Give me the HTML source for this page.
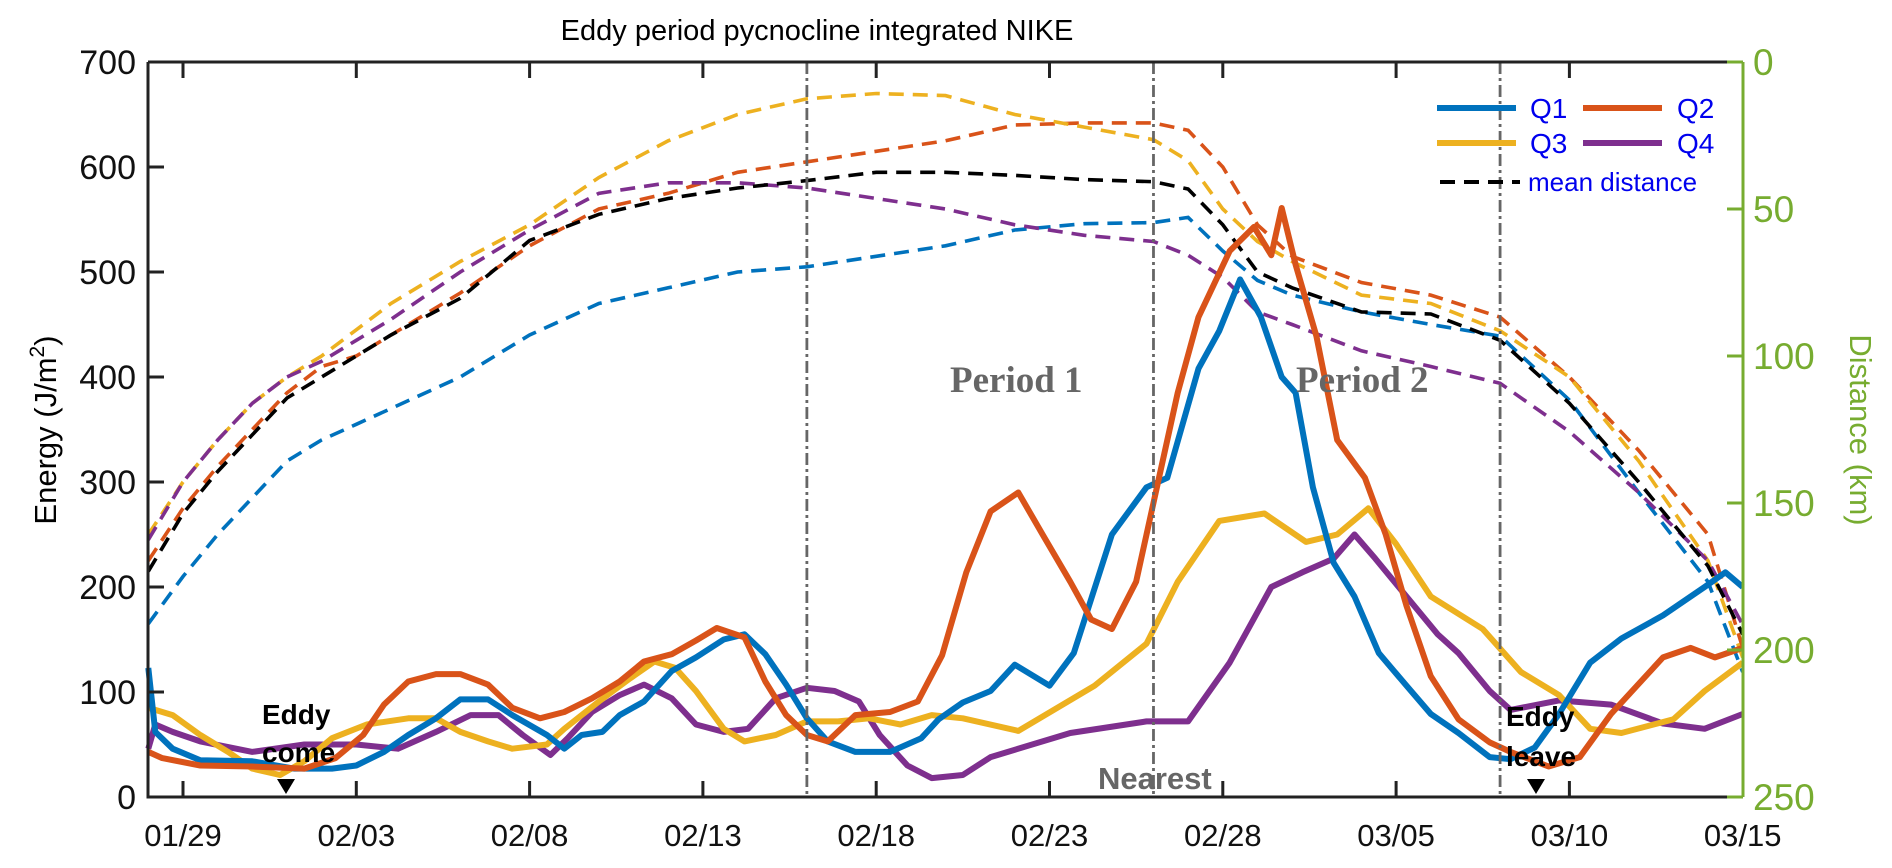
<!DOCTYPE html>
<html><head><meta charset="utf-8"><style>
html,body{margin:0;padding:0;background:#fff;}
svg{display:block;font-family:"Liberation Sans",Arial,sans-serif;}
</style></head><body>
<svg id="chart" width="1892" height="868" viewBox="0 0 1892 868" xmlns="http://www.w3.org/2000/svg">
<text x="817" y="40" font-size="29" text-anchor="middle" fill="#000">Eddy period pycnocline integrated NIKE</text>
<text transform="translate(56,430) rotate(-90)" font-size="31" text-anchor="middle" fill="#000">Energy (J/m<tspan font-size="21" dy="-12">2</tspan><tspan dy="12">)</tspan></text>
<text transform="translate(1850,430) rotate(90)" font-size="31" text-anchor="middle" fill="#77AC30">Distance (km)</text>
<g id="plot"></g>
</svg>
<script>
const xTickLabels=["01/29","02/03","02/08","02/13","02/18","02/23","02/28","03/05","03/10","03/15"];
const yTicks=[0,100,200,300,400,500,600,700];
const kmTicks=[0,50,100,150,200,250];
const periodLines=[18,28,38];

const dashDays=[-1,0,1,2,3,4,5,6,8,10,12,14,16,18,20,22,24,26,28,29,30,31,32,34,36,38,40,42,44,45];
const dashQ3=[250,300,340,375,400,420,445,470,510,545,590,625,650,665,670,668,650,638,626,606,560,529,510,478,470,444,400,320,225,133];
const dashQ2=[225,275,315,350,385,410,420,440,480,525,560,575,595,605,615,625,640,642,642,635,600,545,515,490,478,457,400,330,250,142];
const dashMean=[215,270,310,345,380,400,420,440,475,530,555,570,580,587,595,595,592,588,586,579,545,500,485,462,460,435,375,300,220,155];
const dashQ1=[165,210,250,285,320,340,355,370,400,440,470,485,500,505,515,525,540,546,547,552,520,492,478,462,450,439,378,290,205,119];
const dashQ4=[245,300,340,375,400,415,435,455,500,540,575,585,585,580,570,560,545,535,529,516,495,462,450,425,410,394,348,290,225,164];

const q1Days=[-1,-0.8,-0.3,0.5,2,3.2,4.3,5,5.8,6.5,7.3,8,8.8,9.5,10.5,11,11.5,12.1,12.6,13.3,14.1,14.8,15.6,16.2,16.8,17.4,18,18.6,19.4,20.4,21.3,21.8,22.5,23.3,24,25,25.7,26.8,27.8,28.4,29.3,29.9,30.5,31.1,31.7,32.1,32.6,33.2,33.8,34.5,35.3,36,36.8,37.7,38.3,39,39.7,40.6,41.5,42.7,43.9,44.5,45];
const q1Vals=[123,62,46,35,34,27,27,30,43,59,75,93,93,78,59,46,59,62,78,91,120,133,150,155,136,107,75,53,43,43,56,74,90,101,126,106,137,250,295,304,408,444,493,457,400,385,295,223,191,137,106,79,61,38,36,47,79,128,151,173,200,214,200];
const q2Days=[-1,-0.6,0.5,2,3.5,4.4,5.2,5.8,6.5,7.3,8,8.8,9.5,10.3,11,11.8,12.6,13.3,14.1,14.8,15.4,16.2,16.8,17.4,18,18.6,19.4,20.4,21.2,21.9,22.6,23.3,24.1,24.8,25.6,26.2,26.8,27.5,28.1,28.7,29.3,30.2,30.9,31.4,31.7,32.1,32.7,33.3,34.1,34.7,35.3,36,36.8,37.7,38.3,39.4,40.3,41.2,42.7,43.5,44.2,45];
const q2Vals=[43,37,30,29,27,37,59,88,110,117,117,107,85,75,81,94,110,129,136,149,161,152,110,78,59,53,78,81,91,135,214,272,290,250,205,169,160,205,295,385,457,520,543,516,561,507,439,340,304,250,182,115,74,52,43,29,38,79,133,142,133,142];
const q3Days=[-1,-0.3,0.5,1.3,2,2.8,3.5,4.3,5.3,6.5,7.3,8,8.8,9.5,10.5,11,12,12.9,13.6,14.2,14.8,15.6,16.2,17.1,18,18.9,19.8,20.7,21.6,22.5,24.1,26.3,27.8,28.7,29.9,31.2,32.4,33.3,34.2,35,36,37.5,38.6,39.7,40.6,41.5,43,43.9,45];
const q3Vals=[85,78,59,43,27,21,34,56,69,75,75,62,53,46,50,65,91,113,129,123,101,65,53,59,72,72,75,69,78,75,63,106,146,205,263,270,243,250,275,241,191,160,119,97,65,61,74,101,128];
const q4Days=[-1,-0.8,-0.3,0.5,2,3.5,5,6.2,7.3,8.3,9.1,9.8,10.6,11.1,11.8,12.6,13.3,14.1,14.8,15.6,16.3,17.1,18,18.8,19.5,20.1,20.9,21.6,22.5,23.3,25.6,27.8,29,30.2,31.4,32.3,33.2,33.8,34.4,35.3,36.2,36.8,37.7,38.3,39.7,41.2,42.7,43.9,45];
const q4Vals=[46,69,62,53,43,50,50,46,62,78,78,59,40,56,81,97,107,94,69,62,65,94,104,101,91,59,30,18,21,38,61,72,72,128,200,214,227,250,227,191,155,137,101,83,92,88,70,65,79];

const L=148,R=1743,T=62,B=797;
const x=d=>183+d*34.66;
const y=v=>B-v*(B-T)/700;
const yk=k=>T+k*(B-T)/250;
const NS="http://www.w3.org/2000/svg";
const g=document.getElementById('plot');
function mk(tag,attrs,parent){const e=document.createElementNS(NS,tag);for(const k in attrs)e.setAttribute(k,attrs[k]);(parent||g).appendChild(e);return e;}

const dashSeries=[[dashQ1,"#0072BD","distance-q1"],[dashQ2,"#D95319","distance-q2"],[dashQ3,"#EDB120","distance-q3"],[dashQ4,"#7E2F8E","distance-q4"],[dashMean,"#000","distance-mean"]];
dashSeries.forEach(([vals,col,name])=>{
  const pts=dashDays.map((d,i)=>x(d).toFixed(1)+","+y(vals[i]).toFixed(1)).join(" ");
  const p=mk('polyline',{points:pts,fill:"none",stroke:col,"stroke-width":3.6,"stroke-dasharray":"15 9"});
  
  
});
const solid=[[q4Days,q4Vals,"#7E2F8E","energy-q4"],[q3Days,q3Vals,"#EDB120","energy-q3"],[q1Days,q1Vals,"#0072BD","energy-q1"],[q2Days,q2Vals,"#D95319","energy-q2"]];
solid.forEach(([ds,vs,col,name])=>{
  const pts=ds.map((d,i)=>x(d).toFixed(1)+","+y(vs[i]).toFixed(1)).join(" ");
  const p=mk('polyline',{points:pts,fill:"none",stroke:col,"stroke-width":6,"stroke-linejoin":"round"});
  
  
});
periodLines.forEach(d=>{
  const l=mk('line',{x1:x(d),x2:x(d),y1:T,y2:B,stroke:"#666","stroke-width":2.8,"stroke-dasharray":"12 4 3 4"});
  
  
});
const ax=mk('path',{d:`M${L},${T}H${R}M${L},${T}V${B}H${R}`,fill:"none",stroke:"#222","stroke-width":3});


const rax=mk('line',{x1:R,x2:R,y1:T,y2:B,stroke:"#77AC30","stroke-width":3});


xTickLabels.forEach((lab,i)=>{
  const xx=x(i*5);
  if(xx<R-5){mk('line',{x1:xx,x2:xx,y1:B,y2:B-16,stroke:"#222","stroke-width":3});mk('line',{x1:xx,x2:xx,y1:T,y2:T+16,stroke:"#222","stroke-width":3});}
  const t=mk('text',{x:xx,y:846,"font-size":31,"text-anchor":"middle",fill:"#111"});
  t.textContent=lab;
  
  
});
yTicks.forEach(v=>{
  mk('line',{x1:L,x2:L+16,y1:y(v),y2:y(v),stroke:"#222","stroke-width":3});
  const t=mk('text',{x:L-12,y:y(v)+12,"font-size":34,"text-anchor":"end",fill:"#111"});
  t.textContent=v;
  
  
});
kmTicks.forEach(k=>{
  mk('line',{x1:R,x2:R-16,y1:yk(k),y2:yk(k),stroke:"#77AC30","stroke-width":3});
  const t=mk('text',{x:R+10,y:yk(k)+13,"font-size":37,"text-anchor":"start",fill:"#77AC30"});
  t.textContent=k;
  
  
});
</script>
<svg style="position:absolute;left:0;top:0" width="1892" height="868">
<g font-family="Liberation Serif,serif" font-weight="bold" font-size="37" fill="#666">
<text x="950" y="392">Period 1</text>
<text x="1296" y="392">Period 2</text>
</g>
<text x="1098" y="789" font-family="Liberation Sans,sans-serif" font-weight="bold" font-size="31" fill="#666">Nearest</text>
<g font-family="Liberation Sans,sans-serif" font-weight="bold" font-size="28" fill="#000">
<text x="262" y="724">Eddy</text>
<text x="262" y="762">come</text>
<text x="1506" y="726">Eddy</text>
<text x="1506" y="766">leave</text>
</g>
<polygon points="277,779 295,779 286,794" fill="#000"/>
<polygon points="1527,779 1545,779 1536,794" fill="#000"/>
<g font-family="Liberation Sans,sans-serif" font-size="28" fill="#0000ee">
<line x1="1437" x2="1516" y1="108" y2="108" stroke="#0072BD" stroke-width="6"/>
<text x="1530" y="118">Q1</text>
<line x1="1583" x2="1662" y1="108" y2="108" stroke="#D95319" stroke-width="6"/>
<text x="1677" y="118">Q2</text>
<line x1="1437" x2="1516" y1="143" y2="143" stroke="#EDB120" stroke-width="6"/>
<text x="1530" y="153">Q3</text>
<line x1="1583" x2="1662" y1="143" y2="143" stroke="#7E2F8E" stroke-width="6"/>
<text x="1677" y="153">Q4</text>
<line x1="1440" x2="1520" y1="182" y2="182" stroke="#000" stroke-width="4" stroke-dasharray="15 9"/>
<text x="1528" y="191" font-size="26">mean distance</text>
</g>
</svg>
</body></html>
